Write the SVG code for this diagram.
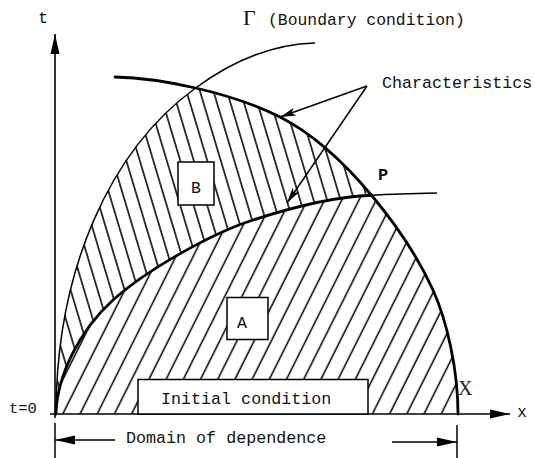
<svg xmlns="http://www.w3.org/2000/svg" width="535" height="458" viewBox="0 0 535 458">
<style>
.mono{font-family:"Liberation Mono","Courier New",monospace;fill:#111;}
.thick{fill:none;stroke:#000;stroke-width:2.8;stroke-linecap:round;stroke-linejoin:round;}
.thin{fill:none;stroke:#000;stroke-width:1.5;}
.box{fill:#fff;stroke:#000;stroke-width:1.5;}
.ax{stroke:#000;stroke-width:1.6;fill:none;}
</style>
<defs>
<pattern id="hatchA" patternUnits="userSpaceOnUse" width="17.2" height="20" patternTransform="skewX(-26.565)">
<line x1="11.8" y1="-5" x2="11.8" y2="25" stroke="#000" stroke-width="1.7"/>
</pattern>
<pattern id="hatchB" patternUnits="userSpaceOnUse" width="13.5" height="20" patternTransform="skewX(16.7)">
<line x1="10.6" y1="-5" x2="10.6" y2="25" stroke="#000" stroke-width="1.6"/>
</pattern>
<marker id="arr" viewBox="0 0 16 8" refX="16" refY="4" markerWidth="16" markerHeight="8" markerUnits="userSpaceOnUse" orient="auto">
<path d="M0,0 L16,4 L0,8 L4,4 Z" fill="#000"/>
</marker>
<marker id="arrAx" viewBox="0 0 20 10" refX="20" refY="5" markerWidth="20" markerHeight="10" markerUnits="userSpaceOnUse" orient="auto">
<path d="M0,0.5 L20,5 L0,9.5 Z" fill="#000"/>
</marker>
</defs>

<g id="region-B">
<path d="M56,415 C56,270 110,150 195.6,88 C225,94.75 255,104.5 280,117 C312.5,133.5 344.5,163 371.5,195.25 C338,196.5 293,207 253,220 C213,233 149,268 113,300 C80,330 57,375 56,415 Z" fill="url(#hatchB)"/>
</g>
<g id="region-A">
<path d="M56,414 C57,375 80,330 113,300 C149,268 213,233 253,220 C293,207 338,196.5 371.5,195.25 C398.5,227.5 420.5,262.5 433,290 C447,321 458,370 458,414 Z" fill="url(#hatchA)"/>
</g>

<g id="curves">
<path id="gamma-curve" class="thin" d="M56,415 C56,270 110,150 195.6,88 C240,55 280,44 315,43"/>
<path id="upper-characteristic" class="thick" d="M115,77 C137.5,77.5 166.25,81.25 195.6,88 C225,94.75 255,104.5 280,117 C312.5,133.5 344.5,163 371.5,195.25 C398.5,227.5 420.5,262.5 433,290 C447,321 458,370 458,414"/>
<path id="lower-characteristic" class="thick" d="M56,414 C57,375 80,330 113,300 C149,268 213,233 253,220 C293,207 338,196.5 371.5,195.25"/>
<path class="thin" stroke-width="2.2" d="M371.5,195.25 C395,194 415,193.5 437,193"/>
</g>

<g id="axes">
<line class="ax" x1="55" y1="418" x2="55" y2="34" marker-end="url(#arrAx)"/>
<line class="ax" x1="50" y1="414" x2="510" y2="414" marker-end="url(#arrAx)"/>
<text class="mono" x="43" y="23" font-size="16" text-anchor="middle">t</text>
<text class="mono" x="522" y="417" font-size="16" text-anchor="middle">x</text>
<text class="mono" x="9" y="413" font-size="15.5">t=0</text>
</g>

<g id="node-B">
<rect class="box" x="178" y="162" width="36" height="43"/>
<text class="mono" x="196" y="193" font-size="16.5" text-anchor="middle">B</text>
</g>
<g id="node-A">
<rect class="box" x="227" y="297.5" width="41" height="42"/>
<text class="mono" x="242" y="328" font-size="16.5" text-anchor="middle">A</text>
</g>
<g id="node-initial">
<rect class="box" x="138" y="379.5" width="230" height="34.5"/>
<text class="mono" x="161" y="403.5" font-size="16.7">Initial condition</text>
</g>

<g id="label-gamma">
<text x="243" y="25" font-family="Liberation Serif, serif" font-size="22" fill="#111">Γ</text>
<text class="mono" x="268" y="25" font-size="16.4">(Boundary condition)</text>
</g>
<g id="label-P">
<text x="378" y="180" font-family="Liberation Mono, monospace" font-weight="bold" font-size="17" fill="#111">P</text>
</g>
<g id="label-X">
<text x="458" y="395" font-family="Liberation Serif, serif" font-size="20" fill="#222">X</text>
</g>
<g id="label-characteristics">
<text class="mono" x="382" y="88" font-size="16.7">Characteristics</text>
</g>

<g id="connectors">
<line class="thin" x1="367" y1="86" x2="280" y2="117" marker-end="url(#arr)"/>
<line class="thin" x1="367" y1="86" x2="287" y2="203" marker-end="url(#arr)"/>
</g>

<g id="domain">
<line class="thin" x1="55" y1="423" x2="55" y2="458"/>
<line class="thin" x1="457" y1="425" x2="457" y2="458"/>
<line class="thin" x1="115" y1="440" x2="55" y2="440" marker-end="url(#arrAx)"/>
<line class="thin" x1="392" y1="442" x2="457" y2="442" marker-end="url(#arrAx)"/>
<text class="mono" x="126" y="443" font-size="16.7">Domain of dependence</text>
</g>
</svg>
